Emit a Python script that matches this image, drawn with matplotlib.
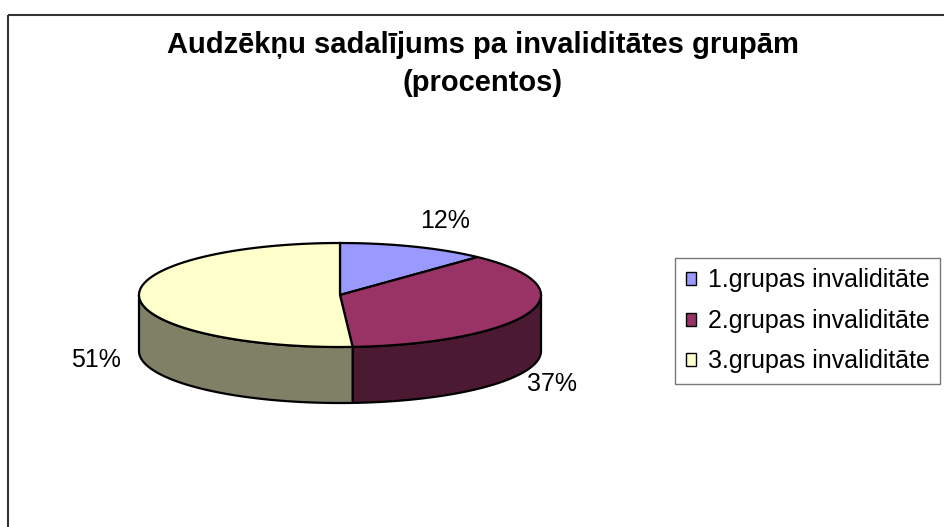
import numpy as np
import matplotlib
import matplotlib.pyplot as plt
from matplotlib.patches import Polygon, Patch, Rectangle
matplotlib.use('Agg')

plt.rcParams['font.family'] = ['Liberation Sans', 'DejaVu Sans']

title = 'Audzēkņu sadalījums pa invaliditātes grupām\n(procentos)'
categories = ['1.grupas invaliditāte', '2.grupas invaliditāte', '3.grupas invaliditāte']
values = [12, 37, 51]
top_colors = ['#9999FF', '#993366', '#FFFFCC']
side_colors = ['#4C4C80', '#4C1933', '#808066']

# geometry of the tilted pie (pixels, y down)
cx, cy = 340, 295
a, b = 201, 52
depth = 56
label_nudge = [(3, -6), (-10, 1), (-10, 7)]


def ell(phi, dy=0):
    # phi in degrees, clockwise from 12 o'clock
    r = np.radians(phi)
    return cx + a * np.sin(r), cy - b * np.cos(r) + dy


fig = plt.figure(figsize=(9.44, 5.27), dpi=100)
ax = fig.add_axes([0, 0, 1, 1])
ax.set_xlim(0, 944)
ax.set_ylim(527, 0)
ax.axis('off')

# chart area frame (runs off the right and bottom edges)
ax.add_patch(Rectangle((8, 15), 1000, 600, fill=False, edgecolor='#333333', lw=1.5, zorder=0))

fracs = np.array(values) / sum(values)
bounds = np.concatenate([[0], np.cumsum(fracs) * 360])

# sides first (only the front half is visible)
for i in range(len(values)):
    lo = max(bounds[i], 90)
    hi = min(bounds[i + 1], 270)
    if lo >= hi:
        continue
    phis = np.linspace(lo, hi, 120)
    xs, ys = ell(phis)
    xb, yb = ell(phis[::-1], depth)
    pts = np.column_stack([np.concatenate([xs, xb]), np.concatenate([ys, yb])])
    ax.add_patch(Polygon(pts, closed=True, facecolor=side_colors[i], edgecolor='black', lw=1.6, zorder=1))

# top faces
for i in range(len(values)):
    phis = np.linspace(bounds[i], bounds[i + 1], 200)
    xs, ys = ell(phis)
    pts = np.column_stack([np.concatenate([[cx], xs]), np.concatenate([[cy], ys])])
    ax.add_patch(Polygon(pts, closed=True, facecolor=top_colors[i], edgecolor='black', lw=1.6, zorder=2))

# percentage labels
for i, v in enumerate(values):
    mid = (bounds[i] + bounds[i + 1]) / 2
    s, c = np.sin(np.radians(mid)), np.cos(np.radians(mid))
    lx = cx + (a + 8) * s
    ly = cy - (b + 8) * c + (depth if c < 0.2 else 0)
    ha = 'left' if s > 0.1 else ('right' if s < -0.1 else 'center')
    va = 'bottom' if c > 0.1 else ('top' if c < -0.1 else 'center')
    ax.text(lx + label_nudge[i][0], ly + label_nudge[i][1], f'{v}%', fontsize=18, ha=ha, va=va, zorder=3)

ax.text(483, 31, title, fontsize=21, fontweight='bold', ha='center', va='top', linespacing=1.45)

handles = [Patch(facecolor=col, edgecolor='black', lw=1) for col in top_colors]
leg = fig.legend(handles, categories, loc='upper left', bbox_to_anchor=(675 / 944, 1 - 258 / 527),
                 fontsize=18, frameon=True, fancybox=False, borderaxespad=0,
                 handlelength=0.42, handleheight=0.42, handletextpad=0.48,
                 borderpad=0.42, labelspacing=0.66)
leg.get_frame().set_edgecolor('#555555')
leg.get_frame().set_linewidth(1)

fig.savefig('out.png', dpi=100)
